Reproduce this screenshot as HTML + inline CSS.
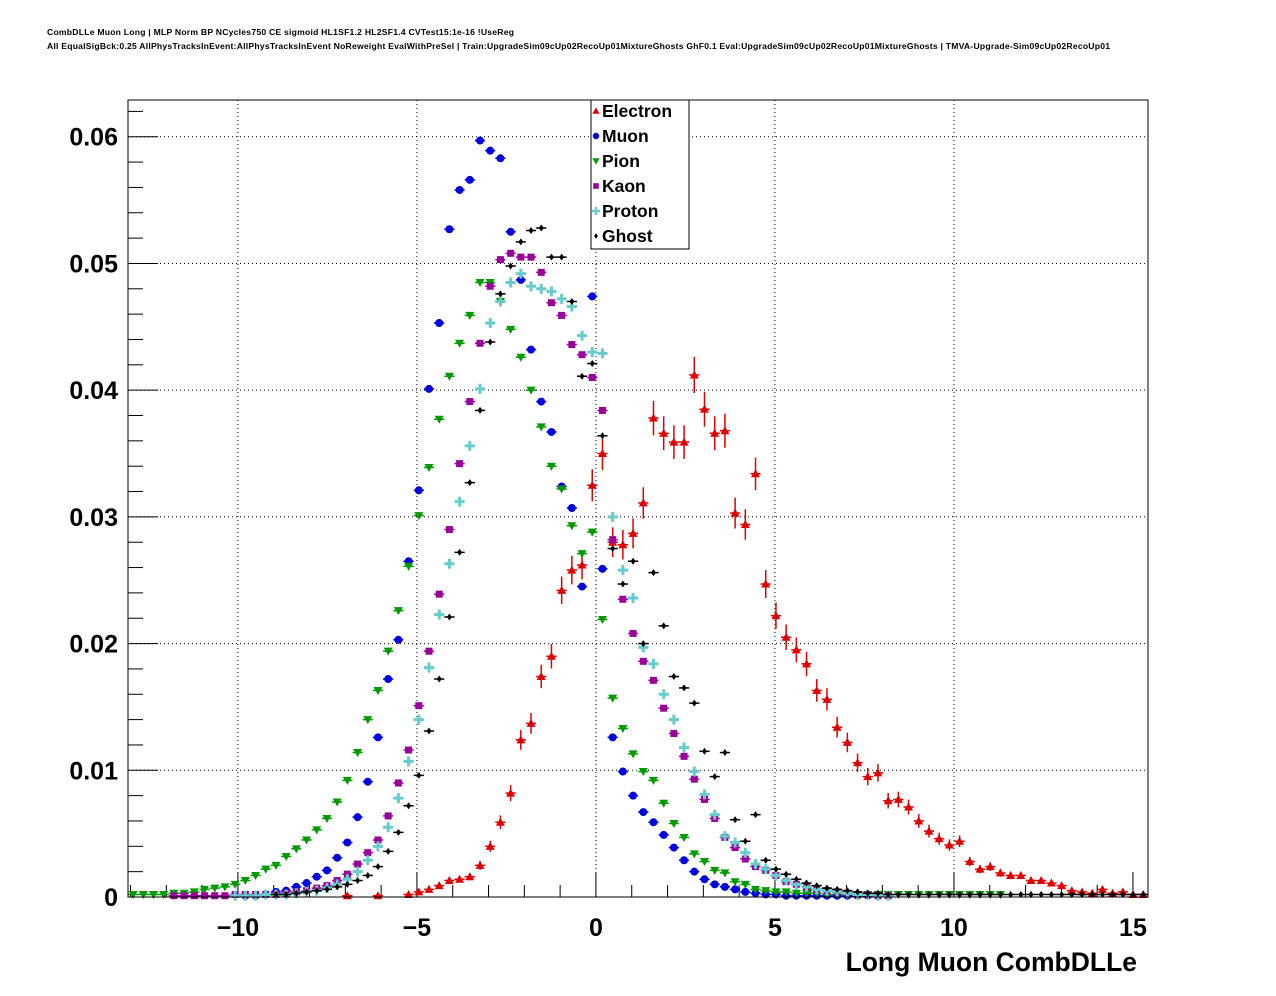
<!DOCTYPE html>
<html><head><meta charset="utf-8"><style>
body{margin:0;background:#fff;}
svg{display:block;font-family:"Liberation Sans",Arial,sans-serif;}
</style></head><body>
<svg id="chart" width="1276" height="996" xmlns="http://www.w3.org/2000/svg">
<rect x="0" y="0" width="1276" height="996" fill="#fff"/>
<text x="47" y="35" font-size="8.6" font-weight="bold" textLength="467">CombDLLe Muon Long | MLP Norm BP NCycles750 CE sigmoid HL1SF1.2 HL2SF1.4 CVTest15:1e-16 !UseReg</text>
<text x="47" y="49" font-size="8.6" font-weight="bold" textLength="1063">All EqualSigBck:0.25 AllPhysTracksInEvent:AllPhysTracksInEvent NoReweight EvalWithPreSel | Train:UpgradeSim09cUp02RecoUp01MixtureGhosts GhF0.1 Eval:UpgradeSim09cUp02RecoUp01MixtureGhosts | TMVA-Upgrade-Sim09cUp02RecoUp01</text>
<g id="grid"></g>
<g id="axes"></g>
<g id="marks"></g>
<rect x="128" y="100" width="1020" height="797" fill="none" stroke="#000" stroke-width="1"/>
<g id="legend"></g>
<text x="1137" y="971" font-size="26.5" font-weight="bold" text-anchor="end">Long Muon CombDLLe</text>
</svg>
<script>
const binLo = -13.07;
const binWidth = 0.285;
const xTicks = [-10, -5, 0, 5, 10, 15];
const xTickLabels = ["\u221210", "\u22125", "0", "5", "10", "15"];
const yTicks = [0, 0.01, 0.02, 0.03, 0.04, 0.05, 0.06];
const yTickLabels = ["0", "0.01", "0.02", "0.03", "0.04", "0.05", "0.06"];
const seriesNames = ["Electron", "Muon", "Pion", "Kaon", "Proton", "Ghost"];

const electron = [0,0,0,0,0,0,0,0,0,0,0,0,0,0,0,0,0,0,0,0,0,0.0001,0,0,0.0001,0,0,
0.0002,0.0004,0.0006,0.0009,0.0013,0.0014,0.0016,0.0025,0.0040,0.0059,0.0082,0.0124,0.0137,0.0174,0.0190,0.0242,0.0258,0.0262,0.0325,0.0350,0.0280,0.0278,0.0287,0.0311,
0.0378,0.0366,0.0359,0.0359,0.0412,0.0385,0.0366,0.0368,0.0303,0.0294,0.0334,0.0247,0.0222,0.0205,0.0195,0.0184,0.0163,0.0156,0.0134,0.0122,0.0106,0.0095,0.0098,0.0076,0.0077,0.0071,0.0060,0.0052,0.0046,0.0041,0.0044,0.0028,0.0022,0.0024,0.0019,0.0017,0.0017,0.0013,0.0013,0.0011,0.0009,0.0005,0.0004,0.0003,0.0006,0.0003,0.0004,0.0002,0.0002];
const muon = [0,0,0,0,0,0,0,0,0,0,0,0.0001,0.0001,0.0002,0.0004,0.0005,0.0008,0.0011,0.0016,0.0021,0.0031,0.0043,0.0063,0.0091,0.0126,0.0172,0.0203,0.0265,0.0321,0.0401,0.0453,0.0527,0.0558,0.0566,0.0597,0.0589,0.0583,0.0525,0.0487,0.0432,0.0391,0.0367,0.0324,0.0307,0.0245,0.0474,0.0259,0.0126,0.0099,0.0080,0.0067,0.0059,0.0049,0.0039,0.0029,0.0020,0.0014,0.0010,0.0008,0.0006,0.0004,0.0003,0.0002,0.0002,0.0001,0.0001,0.0001,0.0001,0.0001,0.0001,0.0001,0.0001,0.0001,0,0,0,0,0,0,0,0,0,0,0,0,0,0,0,0,0,0,0,0,0,0,0,0,0,0,0];
const pion = [0.0002,0.0002,0.0002,0.0002,0.0003,0.0003,0.0004,0.0006,0.0007,0.0008,0.0010,0.0013,0.0017,0.0022,0.0025,0.0032,0.0038,0.0045,0.0053,0.0062,0.0075,0.0092,0.0114,0.0140,0.0163,0.0194,0.0226,0.0261,0.0301,0.0339,0.0377,0.0411,0.0437,0.0459,0.0485,0.0485,0.0470,0.0448,0.0426,0.0400,0.0371,0.0340,0.0322,0.0293,0.0271,0.0288,0.0219,0.0157,0.0133,0.0113,0.0099,0.0092,0.0074,0.0058,0.0047,0.0034,0.0028,0.0021,0.0019,0.0012,0.0010,0.0006,0.0005,0.0004,0.0004,0.0003,0.0003,0.0003,0.0002,0.0002,0.0002,0.0002,0.0002,0.0002,0.0002,0.0002,0.0002,0.0002,0.0002,0.0002,0.0002,0.0002,0.0002,0.0002,0.0002,0.0002,0,0,0,0,0,0,0,0,0,0,0,0,0,0];
const kaon = [0,0,0,0,0.0001,0.0001,0.0001,0.0001,0.0001,0.0001,0.0002,0.0002,0.0002,0.0002,0.0002,0.0003,0.0004,0.0005,0.0007,0.0009,0.0013,0.0018,0.0026,0.0035,0.0045,0.0064,0.0090,0.0116,0.0151,0.0194,0.0239,0.0290,0.0342,0.0391,0.0437,0.0482,0.0503,0.0508,0.0505,0.0505,0.0493,0.0469,0.0459,0.0436,0.0428,0.0410,0.0384,0.0282,0.0235,0.0208,0.0186,0.0171,0.0149,0.0129,0.0111,0.0093,0.0077,0.0062,0.0047,0.0039,0.0030,0.0024,0.0021,0.0017,0.0012,0.0010,0.0008,0.0006,0.0005,0.0004,0.0003,0.0002,0.0002,0.0001,0.0001,0,0,0,0,0,0,0,0,0,0,0,0,0,0,0,0,0,0,0,0,0,0,0,0,0];
const proton = [0,0,0,0,0,0,0,0,0,0,0.0001,0.0001,0.0001,0.0002,0.0002,0.0002,0.0003,0.0004,0.0005,0.0007,0.0010,0.0014,0.0020,0.0029,0.0040,0.0055,0.0078,0.0107,0.0140,0.0181,0.0223,0.0263,0.0312,0.0356,0.0401,0.0453,0.0470,0.0485,0.0492,0.0482,0.0480,0.0478,0.0472,0.0466,0.0443,0.0430,0.0429,0.0300,0.0258,0.0236,0.0197,0.0184,0.0160,0.0140,0.0118,0.0099,0.0081,0.0065,0.0048,0.0043,0.0035,0.0026,0.0022,0.0017,0.0013,0.0010,0.0008,0.0006,0.0005,0.0004,0.0003,0.0002,0.0002,0.0001,0.0001,0,0,0,0,0,0,0,0,0,0,0,0,0,0,0,0,0,0,0,0,0,0,0,0,0];
const ghost = [0,0,0,0,0,0,0,0,0,0,0,0,0,0,0.0002,0.0002,0.0003,0.0004,0.0005,0.0006,0.0008,0.0010,0.0013,0.0017,0.0024,0.0036,0.0051,0.0072,0.0096,0.0131,0.0172,0.0221,0.0272,0.0327,0.0384,0.0438,0.0476,0.0498,0.0517,0.0526,0.0528,0.0505,0.0505,0.0470,0.0411,0.0421,0.0364,0.0275,0.0247,0.0265,0.0200,0.0256,0.0214,0.0174,0.0165,0.0153,0.0115,0.0095,0.0114,0.0061,0.0044,0.0065,0.0029,0.0022,0.0018,0.0014,0.0011,0.0009,0.0007,0.0006,0.0005,0.0004,0.0003,0.0003,0.0002,0.0002,0.0002,0.0002,0.0002,0.0002,0.0002,0.0002,0.0002,0.0002,0.0002,0.0002,0.0002,0.0002,0.0002,0.0002,0.0002,0.0002,0.0002,0.0002,0.0002,0.0002,0.0002,0.0002,0.0002,0.0002];

const NS = "http://www.w3.org/2000/svg";
const X0 = 128, X1 = 1148, Y0 = 897, Y1 = 100;
const xMin = -13.07, xMax = 15.42, yMin = 0, yMax = 0.0629;
function sx(v){ return X0 + (v - xMin) / (xMax - xMin) * (X1 - X0); }
function sy(v){ return Y0 - (v - yMin) / (yMax - yMin) * (Y0 - Y1); }
function mk(tag, attrs, parent){ const e = document.createElementNS(NS, tag); for (const k in attrs) e.setAttribute(k, attrs[k]); parent.appendChild(e); return e; }

const grid = document.getElementById('grid');
const axes = document.getElementById('axes');
xTicks.forEach((t, i) => {
  const x = sx(t);
  if (t < 15) {
    const g = mk('line', {x1:x, y1:Y1, x2:x, y2:Y0, stroke:'#000', 'stroke-width':1, 'stroke-dasharray':'1,3'}, grid);
    
    
  }
  const tk = mk('line', {x1:x, y1:Y0, x2:x, y2:Y0-25, stroke:'#000'}, axes);
  
  
  const lb = mk('text', {x:x, y:936, 'font-size':25, 'font-weight':'bold', 'text-anchor':'middle'}, axes);
  lb.textContent = xTickLabels[i];
  
  
});
for (let v = -13; v <= 15; v++) {
  if (v % 5 === 0) continue;
  const x = sx(v);
  const tk = mk('line', {x1:x, y1:Y0, x2:x, y2:Y0-12, stroke:'#000'}, axes);
  
  
}
yTicks.forEach((t, i) => {
  const y = sy(t);
  if (t > 0) {
    const g = mk('line', {x1:X0, y1:y, x2:X1, y2:y, stroke:'#000', 'stroke-width':1, 'stroke-dasharray':'1,3'}, grid);
    
    
  }
  const tk = mk('line', {x1:X0, y1:y, x2:X0+30, y2:y, stroke:'#000'}, axes);
  
  
  const lb = mk('text', {x:118, y:y+9, 'font-size':25, 'font-weight':'bold', 'text-anchor':'end'}, axes);
  lb.textContent = yTickLabels[i];
  
  
});
for (let k = 1; k <= 31; k++) {
  if (k % 5 === 0) continue;
  const y = sy(k * 0.002);
  if (y < Y1) break;
  const tk = mk('line', {x1:X0, y1:y, x2:X0+15, y2:y, stroke:'#000'}, axes);
  
  
}

const colors = ['#dd0000', '#0000dd', '#009900', '#990099', '#66cccc', '#000000'];
const datasets = [electron, muon, pion, kaon, proton, ghost];
function marker(type, cx, cy, color, parent, s) {
  s = s || 1;
  let e;
  if (type === 0) e = mk('polygon', {points:`${cx},${cy-4.5*s} ${cx-4.5*s},${cy+3.5*s} ${cx+4.5*s},${cy+3.5*s}`, fill:color}, parent);
  else if (type === 1) e = mk('circle', {cx:cx, cy:cy, r:4*s, fill:color}, parent);
  else if (type === 2) e = mk('polygon', {points:`${cx-4.5*s},${cy-3.5*s} ${cx+4.5*s},${cy-3.5*s} ${cx},${cy+4.5*s}`, fill:color}, parent);
  else if (type === 3) e = mk('rect', {x:cx-3.5*s, y:cy-3.5*s, width:7*s, height:7*s, fill:color}, parent);
  else if (type === 4) e = mk('path', {d:`M${cx-5*s},${cy-1.5*s}h${3.5*s}v${-3.5*s}h${3*s}v${3.5*s}h${3.5*s}v${3*s}h${-3.5*s}v${3.5*s}h${-3*s}v${-3.5*s}h${-3.5*s}z`, fill:color}, parent);
  else e = mk('polygon', {points:`${cx},${cy-3.5*s} ${cx+2.5*s},${cy} ${cx},${cy+3.5*s} ${cx-2.5*s},${cy}`, fill:color}, parent);
  return e;
}
const marks = document.getElementById('marks');
datasets.forEach((arr, si) => {
  const g = mk('g', {}, marks);
  
  
  arr.forEach((v, i) => {
    if (v <= 0) return;
    const xc = binLo + (i + 0.5) * binWidth;
    const cx = sx(xc), cy = sy(v);
    const hb = mk('line', {x1:sx(xc - binWidth/2), y1:cy, x2:sx(xc + binWidth/2), y2:cy, stroke:colors[si], 'stroke-width':1.5}, g);
    
    
    if (si === 0) {
      const err = Math.sqrt(v * 0.000049);
      const vb = mk('line', {x1:cx, y1:sy(v + err), x2:cx, y2:sy(Math.max(0, v - err)), stroke:colors[si], 'stroke-width':1.5}, g);
      
      
    }
    const m = marker(si, cx, cy, colors[si], g);
    
    
  });
});

const legend = document.getElementById('legend');
const lb = mk('rect', {x:591, y:100, width:98, height:149, fill:'#fff', stroke:'#000', 'stroke-width':1}, legend);


seriesNames.forEach((n, i) => {
  const y = 111 + i * 25;
  const g = mk('g', {}, legend);
  
  
  const m = marker(i, 596, y, colors[i], g, 0.8);
  
  
  const t = mk('text', {x:602, y:y+6, 'font-size':17.5, 'font-weight':'bold'}, g);
  t.textContent = n;
  
  
});
</script>
</body></html>
